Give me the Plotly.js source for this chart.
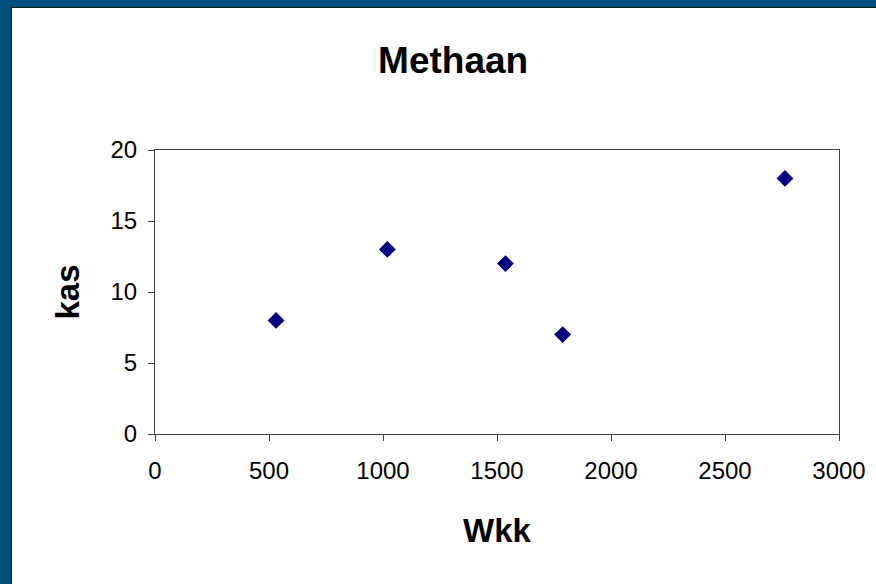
<!DOCTYPE html>
<html>
<head>
<meta charset="utf-8">
<script src="https://cdn.plot.ly/plotly-3.0.1.min.js"></script>
<style>
html,body{margin:0;padding:0;width:876px;height:584px;overflow:hidden;background:#004E7C;}
#wrap{position:absolute;left:11px;top:7px;width:865px;height:577px;background:#fff;border-left:1px solid #1a1a1a;border-top:1px solid #1a1a1a;}
#chart{position:absolute;left:0;top:0;width:865px;height:577px;}
</style>
</head>
<body>
<div id="wrap"><div id="chart"></div></div>
<script>
const wkk = [531, 1019, 1537, 1788, 2763];
const kas = [8, 13, 12, 7, 18];
const xTicks = [0, 500, 1000, 1500, 2000, 2500, 3000];
const yTicks = [0, 5, 10, 15, 20];
const chartTitle = "Methaan";
const xTitle = "Wkk";
const yTitle = "kas";

const font = "Liberation Sans, Arial, sans-serif";
Plotly.newPlot('chart', [{
  x: wkk, y: kas, type: 'scatter', mode: 'markers',
  marker: {symbol: 'diamond', size: 13, color: '#000080'},
  hoverinfo: 'x+y'
}], {
  width: 865, height: 577,
  margin: {l: 143, r: 38, t: 142, b: 151},
  paper_bgcolor: '#ffffff', plot_bgcolor: '#ffffff',
  font: {family: font, color: '#000'},
  showlegend: false,
  title: {text: '<b>' + chartTitle + '</b>', font: {size: 37, family: font, color: '#000'},
          x: 0.51, xref: 'container', xanchor: 'center', y: 0.91, yref: 'container', yanchor: 'middle'},
  xaxis: {
    range: [0, 3000], tickvals: xTicks, ticktext: xTicks.map(String),
    showgrid: false, zeroline: false, showline: true, linecolor: '#404040', linewidth: 1, mirror: true,
    ticks: 'outside', ticklen: 6, tickcolor: '#404040', tickfont: {size: 24},
    ticklabelstandoff: 9,
    title: {text: '<b>' + xTitle + '</b>', font: {size: 33}, standoff: 36}
  },
  yaxis: {
    range: [0, 20], tickvals: yTicks, ticktext: yTicks.map(String),
    showgrid: false, zeroline: false, showline: true, linecolor: '#404040', linewidth: 1, mirror: true,
    ticks: 'outside', ticklen: 6, tickcolor: '#404040', tickfont: {size: 24},
    ticklabelstandoff: 6,
    title: {text: '<b>' + yTitle + '</b>', font: {size: 33}, standoff: 20}
  }
}, {displayModeBar: false, staticPlot: false});
</script>
</body>
</html>
